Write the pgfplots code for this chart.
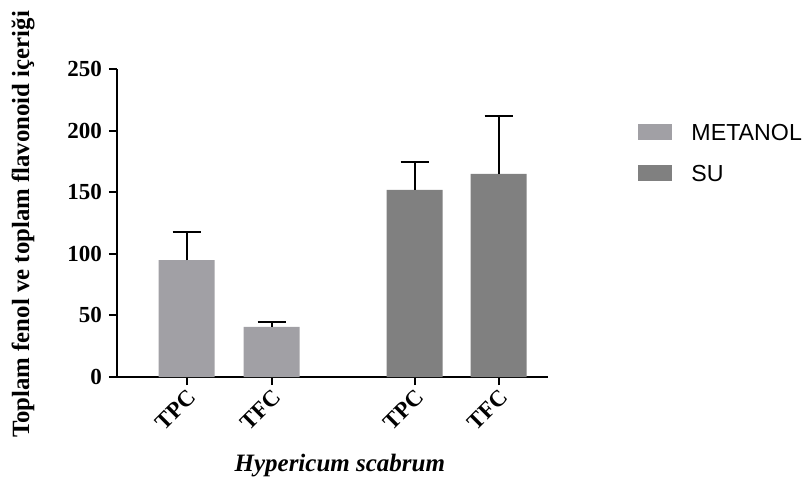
\documentclass[border=0pt]{standalone}
\usepackage{fontspec}
\setmainfont{Liberation Serif}
\setsansfont{Liberation Sans}
\usepackage{pgfplots}
\pgfplotsset{compat=1.18}
\definecolor{metcol}{RGB}{161,160,165}
\definecolor{sucol}{RGB}{128,128,128}
\begin{document}
\begin{tikzpicture}
\begin{axis}[
  name=ax,
  scale only axis,
  width=215.5pt, height=154pt,
  xmin=-0.82, xmax=4.25,
  ymin=0, ymax=250,
  ytick={0,50,100,150,200,250},
  xtick={0,1,2.68,3.67},
  xticklabels={TPC,TFC,TPC,TFC},
  axis x line*=bottom, axis y line*=left,
  axis line style={line width=1pt, -},
  tick style={line width=1pt, black},
  tick align=outside,
  major tick length=4pt,
  /pgf/number format/assume math mode=true,
  tick label style={font=\fontsize{11.5}{13}\selectfont\bfseries},
  xticklabel style={rotate=45, anchor=north east, inner sep=1pt},
  ylabel={Toplam fenol ve toplam flavonoid içeriği},
  ylabel style={font=\fontsize{12.4}{14}\selectfont\bfseries, at={(axis description cs:-0.218,0.495)}, anchor=center},
  xlabel={Hypericum scabrum},
  xlabel style={font=\fontsize{12.5}{14}\selectfont\bfseries\itshape, at={(axis description cs:0.517,-0.286)}, anchor=center},
  ybar, bar width=28pt,
  legend style={at={(rel axis cs:1.209,0.825)}, anchor=north west, draw=none, fill=none,
    inner sep=0pt, row sep=12pt, font=\sffamily\fontsize{11.6}{13}\selectfont,
    nodes={inner sep=0pt, text height=8.5pt, text depth=0pt},
    /tikz/every odd column/.append style={column sep=9.5pt}},
  legend cell align=left,
  legend image code/.code={\fill[#1] (0pt,-4pt) rectangle (17pt,4pt);},
]
\addplot+[bar shift=0pt, fill=metcol, draw=none,
  error bars/.cd, y dir=plus, y explicit,
  error bar style={black, line width=1pt},
  error mark options={black, line width=1pt, mark size=7pt, rotate=90}]
  coordinates {(0,94.8) +- (0,23.2) (1,40.7) +- (0,3.8)};
\addlegendentry{METANOL}
\addplot+[bar shift=0pt, fill=sucol, draw=none,
  error bars/.cd, y dir=plus, y explicit,
  error bar style={black, line width=1pt},
  error mark options={black, line width=1pt, mark size=7pt, rotate=90}]
  coordinates {(2.68,151.8) +- (0,22.5) (3.67,164.8) +- (0,46.9)};
\addlegendentry{SU}
\end{axis}
\pgfresetboundingbox
\path (ax.south west) ++(-58.5pt,-58pt) rectangle ++(403.5pt,246.5pt);
\end{tikzpicture}
\end{document}
